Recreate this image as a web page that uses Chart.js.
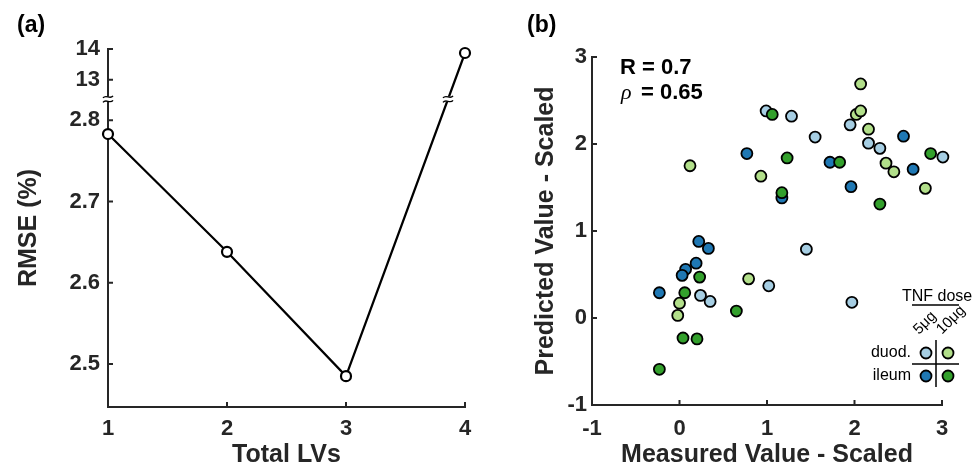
<!DOCTYPE html>
<html>
<head>
<meta charset="utf-8">
<script src="https://cdn.jsdelivr.net/npm/chart.js@4.4.0/dist/chart.umd.min.js"></script>
<style>
  html, body { margin: 0; padding: 0; background: #fff; }
  #wrap { position: relative; width: 973px; height: 471px; }
  #boxA { position: absolute; left: 0; top: 0; }
  #boxB { position: absolute; left: 480px; top: 0; }
</style>
</head>
<body>
<div id="wrap">
  <div id="boxA"><canvas id="rmseChart" width="480" height="471"></canvas></div>
  <div id="boxB"><canvas id="predChart" width="493" height="471"></canvas></div>
</div>
<script>
// ---- panel (a): RMSE vs number of LVs ----
const lvCounts = [1, 2, 3, 4];
const rmseValues = [2.783, 2.638, 2.485, 13.87];
const rmseTicks = [2.5, 2.6, 2.7, 2.8, 13, 14];
const rmseGap = [2.826, 12.37];   // axis jumps from the first to the second value

// ---- panel (b): predicted vs measured, [measured, predicted] ----
const duod5 = [[0.99, 2.38], [1.28, 2.32], [1.55, 2.08], [1.95, 2.22], [2.16, 2.01], [2.29, 1.95],
               [3.01, 1.85], [0.24, 0.26], [0.35, 0.19], [1.02, 0.37], [1.45, 0.79], [1.97, 0.18]];
const duod10 = [[0.12, 1.75], [0.93, 1.63], [2.07, 2.69], [2.02, 2.34], [2.07, 2.38], [2.16, 2.17],
                [2.36, 1.78], [2.45, 1.68], [2.81, 1.49], [0.0, 0.17], [-0.02, 0.03], [0.79, 0.45]];
const ileum5 = [[0.77, 1.89], [1.17, 1.38], [1.72, 1.79], [1.96, 1.51], [2.56, 2.09], [2.67, 1.71],
                [0.22, 0.88], [0.33, 0.80], [0.19, 0.63], [0.07, 0.56], [0.03, 0.49], [-0.23, 0.29]];
const ileum10 = [[1.06, 2.34], [1.23, 1.84], [1.17, 1.44], [1.83, 1.79], [2.29, 1.31], [2.87, 1.89],
                 [0.23, 0.47], [0.06, 0.29], [0.04, -0.23], [0.2, -0.24], [-0.23, -0.59], [0.65, 0.08]];
const axisTicks = [-1, 0, 1, 2, 3];

const ink = '#262626';
const colDuod5 = '#a6cee3', colDuod10 = '#b2df8a', colIleum5 = '#1f78b4', colIleum10 = '#33a02c';

Chart.defaults.font.family = '"Liberation Sans", Arial, sans-serif';
Chart.defaults.color = ink;

// linear scale with a gap between rmseGap[0] and rmseGap[1]
const lowerShare = 0.86;
class BrokenScale extends Chart.LinearScale {
  buildTicks() {
    return rmseTicks.map(v => ({ value: v }));
  }
  toDecimal(v) {
    const [lo, hi] = rmseGap;
    if (v <= lo) return lowerShare * (v - this.min) / (lo - this.min);
    return lowerShare + (1 - lowerShare) * (v - hi) / (this.max - hi);
  }
  getPixelForValue(v) {
    return this.getPixelForDecimal(this.toDecimal(v));
  }
  getValueForPixel(p) {
    const d = this.getDecimalForPixel(p);
    const [lo, hi] = rmseGap;
    if (d <= lowerShare) return this.min + d / lowerShare * (lo - this.min);
    return hi + (d - lowerShare) / (1 - lowerShare) * (this.max - hi);
  }
}
BrokenScale.id = 'broken';
BrokenScale.defaults = {};
Chart.register(BrokenScale);

function drawInwardTicks(chart) {
  const ctx = chart.ctx;
  const { x, y } = chart.scales;
  ctx.save();
  ctx.strokeStyle = ink;
  ctx.lineWidth = 2;
  ctx.beginPath();
  x.ticks.forEach((t, i) => {
    const px = x.getPixelForTick(i);
    ctx.moveTo(px, x.top); ctx.lineTo(px, x.top - 5);
  });
  y.ticks.forEach((t, i) => {
    const py = y.getPixelForTick(i);
    ctx.moveTo(y.right, py); ctx.lineTo(y.right + 5, py);
  });
  ctx.stroke();
  ctx.restore();
}

function breakMark(ctx, cx, cy) {
  ctx.save();
  ctx.fillStyle = '#fff';
  ctx.fillRect(cx - 3, cy - 2.5, 6, 5);
  ctx.strokeStyle = '#000';
  ctx.lineWidth = 1.4;
  [-2.2, 2.2].forEach(dy => {
    ctx.beginPath();
    ctx.moveTo(cx - 5, cy + dy + 1);
    ctx.bezierCurveTo(cx - 2, cy + dy - 3, cx + 2, cy + dy + 3, cx + 5, cy + dy - 1);
    ctx.stroke();
  });
  ctx.restore();
}

const panelA = {
  id: 'panelA',
  afterDraw(chart) {
    const ctx = chart.ctx;
    drawInwardTicks(chart);
    const y = chart.scales.y;
    const gapPx = y.getPixelForValue(rmseGap[0]);
    breakMark(ctx, y.right, gapPx);
    // mark where the line crosses the gap
    const pts = chart.getDatasetMeta(0).data;
    const p1 = pts[2], p2 = pts[3];
    const t = (p1.y - gapPx) / (p1.y - p2.y);
    breakMark(ctx, p1.x + t * (p2.x - p1.x), gapPx);
    ctx.save();
    ctx.fillStyle = '#000';
    ctx.font = 'bold 23px "Liberation Sans", Arial, sans-serif';
    ctx.textBaseline = 'middle';
    ctx.fillText('(a)', 17, 26);
    ctx.restore();
  }
};

new Chart(document.getElementById('rmseChart'), {
  type: 'line',
  data: {
    datasets: [{
      data: lvCounts.map((v, i) => ({ x: v, y: rmseValues[i] })),
      borderColor: '#000',
      borderWidth: 2.2,
      pointRadius: 5,
      pointBackgroundColor: '#fff',
      pointBorderColor: '#000',
      pointBorderWidth: 2.2,
      tension: 0,
      clip: false
    }]
  },
  options: {
    responsive: false,
    animation: false,
    devicePixelRatio: 1,
    layout: { padding: { left: 0, top: 49, right: 15, bottom: 0 } },
    plugins: { legend: { display: false }, tooltip: { enabled: false } },
    scales: {
      x: {
        type: 'linear', min: 1, max: 4,
        ticks: { stepSize: 1, color: ink, font: { size: 22, weight: 'bold' }, padding: 9 },
        grid: { display: false, drawTicks: false },
        border: { color: ink, width: 2 },
        title: { display: true, text: 'Total LVs', color: ink, font: { size: 25, weight: 'bold' }, padding: { top: 0, bottom: 1 } },
        afterFit: s => { s.height = 64; s.paddingLeft = 0; s.paddingRight = 0; }
      },
      y: {
        type: 'broken', min: 2.447, max: 14,
        ticks: { color: ink, font: { size: 22, weight: 'bold' }, padding: 8, callback: v => String(v) },
        grid: { display: false, drawTicks: false },
        border: { color: ink, width: 2 },
        title: { display: true, text: 'RMSE (%)', color: ink, font: { size: 25, weight: 'bold' }, padding: { top: 14, bottom: 0 } },
        afterFit: s => { s.width = 108; s.paddingTop = 0; s.paddingBottom = 0; }
      }
    }
  },
  plugins: [panelA]
});

const panelB = {
  id: 'panelB',
  afterDraw(chart) {
    const ctx = chart.ctx;
    drawInwardTicks(chart);
    ctx.save();
    ctx.fillStyle = '#000';
    ctx.textBaseline = 'middle';
    ctx.font = 'bold 23px "Liberation Sans", Arial, sans-serif';
    ctx.fillText('(b)', 47, 26);
    ctx.font = 'bold 22px "Liberation Sans", Arial, sans-serif';
    ctx.fillText('R = 0.7', 140, 68);
    ctx.font = 'italic 22px "Liberation Serif", serif';
    ctx.fillText('\u03C1', 141, 93);
    ctx.font = 'bold 22px "Liberation Sans", Arial, sans-serif';
    ctx.fillText('= 0.65', 161, 93);

    // dose x tissue legend
    const ds = chart.data.datasets;
    ctx.font = '16px "Liberation Sans", Arial, sans-serif';
    ctx.fillText('TNF dose', 422, 297);
    ctx.strokeStyle = '#000';
    ctx.lineWidth = 1.5;
    ctx.beginPath();
    ctx.moveTo(432, 305); ctx.lineTo(479, 305);
    ctx.moveTo(456, 340); ctx.lineTo(456, 387);
    ctx.moveTo(432, 364); ctx.lineTo(479, 364);
    ctx.stroke();
    ctx.font = '15px "Liberation Sans", Arial, sans-serif';
    ctx.textAlign = 'center';
    [['5\u03BCg', 445, 323], ['10\u03BCg', 471, 320]].forEach(([txt, cx, cy]) => {
      ctx.save();
      ctx.translate(cx, cy);
      ctx.rotate(-Math.PI / 4);
      ctx.fillText(txt, 0, 0);
      ctx.restore();
    });
    ctx.textAlign = 'right';
    ctx.font = '16px "Liberation Sans", Arial, sans-serif';
    ctx.fillText('duod.', 431, 353);
    ctx.fillText('ileum', 431, 376);
    // dataset index for each legend cell: duod 5, duod 10, ileum 5, ileum 10
    const cells = [[3, 446, 353], [1, 468, 353], [2, 446, 376], [0, 468, 376]];
    cells.forEach(([k, cx, cy]) => {
      ctx.beginPath();
      ctx.arc(cx, cy, 5.5, 0, Math.PI * 2);
      ctx.fillStyle = ds[k].backgroundColor;
      ctx.fill();
      ctx.lineWidth = 1.8;
      ctx.strokeStyle = '#000';
      ctx.stroke();
    });
    ctx.restore();
  }
};

const toPoints = arr => arr.map(([x, y]) => ({ x, y }));
const dotStyle = c => ({ backgroundColor: c, borderColor: '#000', borderWidth: 1.8, pointRadius: 5.5, clip: false });

new Chart(document.getElementById('predChart'), {
  type: 'scatter',
  data: {
    datasets: [
      Object.assign({ label: 'ileum 10\u03BCg', data: toPoints(ileum10) }, dotStyle(colIleum10)),
      Object.assign({ label: 'duod. 10\u03BCg', data: toPoints(duod10) }, dotStyle(colDuod10)),
      Object.assign({ label: 'ileum 5\u03BCg', data: toPoints(ileum5) }, dotStyle(colIleum5)),
      Object.assign({ label: 'duod. 5\u03BCg', data: toPoints(duod5) }, dotStyle(colDuod5))
    ]
  },
  options: {
    responsive: false,
    animation: false,
    devicePixelRatio: 1,
    layout: { padding: { left: 0, top: 57, right: 31, bottom: 0 } },
    plugins: { legend: { display: false }, tooltip: { enabled: false } },
    scales: {
      x: {
        type: 'linear', min: axisTicks[0], max: axisTicks[axisTicks.length - 1],
        afterBuildTicks: s => { s.ticks = axisTicks.map(v => ({ value: v })); },
        ticks: { color: ink, font: { size: 22, weight: 'bold' }, padding: 11 },
        grid: { display: false, drawTicks: false },
        border: { color: ink, width: 2 },
        title: { display: true, text: 'Measured Value - Scaled', color: ink, font: { size: 25, weight: 'bold' }, padding: { top: 0, bottom: 1 } },
        afterFit: s => { s.height = 66; s.paddingLeft = 0; s.paddingRight = 0; }
      },
      y: {
        type: 'linear', min: axisTicks[0], max: axisTicks[axisTicks.length - 1],
        afterBuildTicks: s => { s.ticks = axisTicks.map(v => ({ value: v })); },
        ticks: { color: ink, font: { size: 22, weight: 'bold' }, padding: 5 },
        grid: { display: false, drawTicks: false },
        border: { color: ink, width: 2 },
        title: { display: true, text: 'Predicted Value - Scaled', color: ink, font: { size: 25, weight: 'bold' }, padding: { top: 51, bottom: 0 } },
        afterFit: s => { s.width = 112; s.paddingTop = 0; s.paddingBottom = 0; }
      }
    }
  },
  plugins: [panelB]
});
</script>
</body>
</html>
